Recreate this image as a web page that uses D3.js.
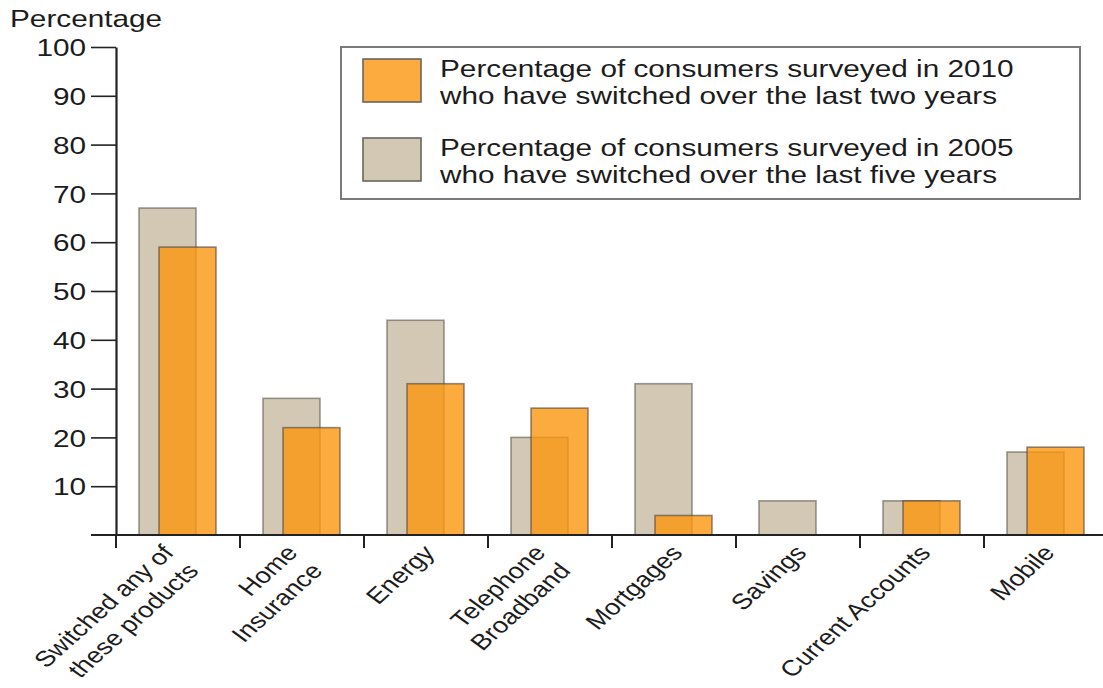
<!DOCTYPE html>
<html>
<head>
<meta charset="utf-8">
<script src="https://cdn.jsdelivr.net/npm/d3@7"></script>
<style>
body { margin: 0; background: #fff; }
text { font-family: "Liberation Sans", Arial, sans-serif; fill: #1c1c1c; }
</style>
</head>
<body>
<div id="chart"></div>
<script>
// Data
const categories = ["Switched any of|these products", "Home|Insurance", "Energy", "Telephone|Broadband",
    "Mortgages", "Savings", "Current Accounts", "Mobile"];
const values2005 = [67, 28, 44, 20, 31, 7, 7, 17];
const values2010 = [59, 22, 31, 26, 4, 0, 7, 18];
const yTicks = [10, 20, 30, 40, 50, 60, 70, 80, 90, 100];
const legend2010 = ["Percentage of consumers surveyed in 2010", "who have switched over the last two years"];
const legend2005 = ["Percentage of consumers surveyed in 2005", "who have switched over the last five years"];

const width = 1103, height = 688;
const sx = 1.24;          // text in the original is a bit wide
const fontSize = 24;
const labelSize = 22;

const svg = d3.select("#chart").append("svg")
    .attr("width", width)
    .attr("height", height);

const x = d3.scaleBand().domain(categories).range([116, 1108]);
const y = d3.scaleLinear().domain([0, 100]).range([535, 47]);

const barW = 57;
const rows = categories.map((c, i) => ({ c, v05: values2005[i], v10: values2010[i] }));

// 2005 bars (behind)
svg.selectAll("rect.b05")
    .data(rows)
    .enter().append("rect")
    .attr("class", "b05")
    .attr("x", d => x(d.c) + 23)
    .attr("y", d => y(d.v05))
    .attr("width", barW)
    .attr("height", d => y(0) - y(d.v05))
    .attr("fill", "#d3c8b4")
    .attr("stroke", "#5a5550")
    .attr("stroke-opacity", 0.6)
    .attr("stroke-width", 1.6);

// 2010 bars (semi-transparent, on top)
svg.selectAll("rect.b10")
    .data(rows.filter(d => d.v10 > 0))
    .enter().append("rect")
    .attr("class", "b10")
    .attr("x", d => x(d.c) + 43)
    .attr("y", d => y(d.v10))
    .attr("width", barW)
    .attr("height", d => y(0) - y(d.v10))
    .attr("fill", "#fb960e")
    .attr("fill-opacity", 0.8)
    .attr("stroke", "#4a4540")
    .attr("stroke-opacity", 0.6)
    .attr("stroke-width", 1.6);

// y axis
const yAxis = svg.append("g")
    .attr("transform", "translate(116,0)")
    .call(d3.axisLeft(y).tickValues(yTicks).tickSize(25).tickSizeOuter(0));
yAxis.select(".domain").attr("stroke", "#222").attr("stroke-width", 2.2);
yAxis.selectAll(".tick line").attr("stroke", "#222").attr("stroke-width", 1.6);
yAxis.selectAll(".tick text")
    .attr("x", null)
    .attr("dy", "0.36em")
    .attr("transform", `translate(-30,0) scale(${sx},1)`)
    .style("font-size", fontSize + "px")
    .style("font-family", "'Liberation Sans', Arial, sans-serif")
    .attr("fill", "#1c1c1c");

// x axis baseline and ticks at band starts
svg.append("line")
    .attr("x1", 91).attr("x2", width)
    .attr("y1", y(0)).attr("y2", y(0))
    .attr("stroke", "#222").attr("stroke-width", 2.2);

svg.selectAll("line.xtick")
    .data(categories)
    .enter().append("line")
    .attr("class", "xtick")
    .attr("x1", d => x(d)).attr("x2", d => x(d))
    .attr("y1", y(0)).attr("y2", y(0) + 13)
    .attr("stroke", "#222").attr("stroke-width", 2);

// rotated category labels
const lab = svg.selectAll("g.xlab")
    .data(categories)
    .enter().append("g")
    .attr("class", "xlab")
    .attr("transform", d => {
        const n = d.split("|").length;
        const cx = x(d) + x.bandwidth() / 2 - 2 - (n - 1) * 13;
        return `translate(${cx},545) scale(${sx},1) rotate(-48)`;
    });

lab.append("text")
    .attr("text-anchor", "end")
    .style("font-size", labelSize + "px")
    .selectAll("tspan")
    .data(d => d.split("|"))
    .enter().append("tspan")
    .attr("x", 0)
    .attr("y", (d, i) => 13 + i * 27)
    .text(d => d);

// y title
svg.append("text")
    .attr("transform", `translate(10,27) scale(${sx},1)`)
    .style("font-size", fontSize + "px")
    .text("Percentage");

// legend
svg.append("rect")
    .attr("x", 341).attr("y", 47)
    .attr("width", 739).attr("height", 152)
    .attr("fill", "none")
    .attr("stroke", "#7a7a7a").attr("stroke-width", 2);

const legendItems = [
    { lines: legend2010, fill: "#fb960e", op: 0.8, top: 59 },
    { lines: legend2005, fill: "#d3c8b4", op: 1, top: 138 }
];

legendItems.forEach(item => {
    svg.append("rect")
        .attr("x", 363).attr("y", item.top)
        .attr("width", 58).attr("height", 43)
        .attr("fill", item.fill).attr("fill-opacity", item.op)
        .attr("stroke", "#6a6560").attr("stroke-width", 1.6);
    item.lines.forEach((t, i) => {
        svg.append("text")
            .attr("transform", `translate(440,${item.top + 18 + i * 27}) scale(${sx},1)`)
            .style("font-size", fontSize + "px")
            .text(t);
    });
});
</script>
</body>
</html>
